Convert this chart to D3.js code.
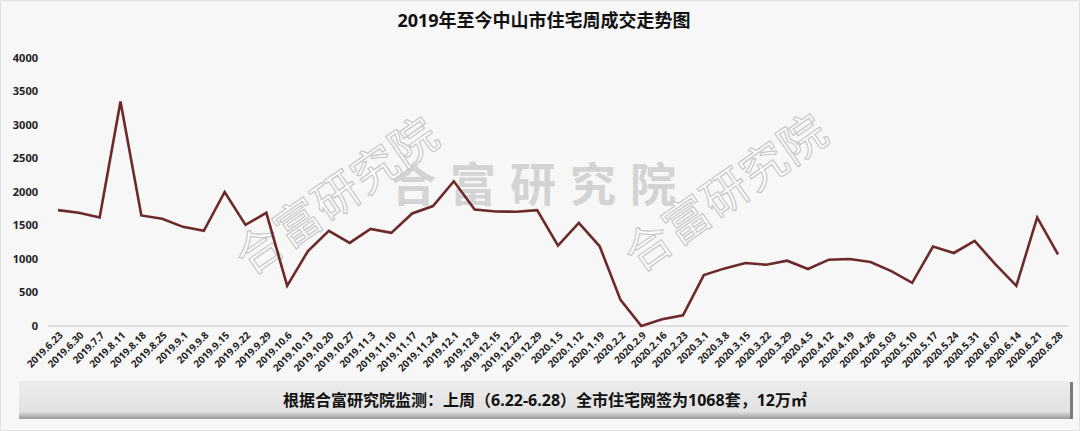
<!DOCTYPE html>
<html>
<head>
<meta charset="utf-8">
<script src="https://d3js.org/d3.v7.min.js"></script>
<style>
  body { margin: 0; background: #f7f7f7; }
  svg { display: block; font-family: "Noto Sans", "Noto Sans CJK SC", sans-serif; }
</style>
</head>
<body>
<svg width="1080" height="431"></svg>
<script>
var dates = ["2019.6.23","2019.6.30","2019.7.7","2019.8.11","2019.8.18","2019.8.25","2019.9.1","2019.9.8",
  "2019.9.15","2019.9.22","2019.9.29","2019.10.6","2019.10.13","2019.10.20","2019.10.27","2019.11.3",
  "2019.11.10","2019.11.17","2019.11.24","2019.12.1","2019.12.8","2019.12.15","2019.12.22","2019.12.29",
  "2020.1.5","2020.1.12","2020.1.19","2020.2.2","2020.2.9","2020.2.16","2020.2.23","2020.3.1","2020.3.8",
  "2020.3.15","2020.3.22","2020.3.29","2020.4.5","2020.4.12","2020.4.19","2020.4.26","2020.5.03","2020.5.10",
  "2020.5.17","2020.5.24","2020.5.31","2020.6.07","2020.6.14","2020.6.21","2020.6.28"];
var deals = [1730,1690,1620,3350,1650,1600,1480,1420,2000,1510,1690,600,1120,1420,1240,1450,
  1390,1680,1790,2160,1740,1710,1705,1730,1200,1540,1190,390,0,100,160,760,860,
  940,915,975,850,990,1000,955,820,645,1185,1090,1270,920,600,1620,1068];
var yTicks = [0,500,1000,1500,2000,2500,3000,3500,4000];
var title = "2019年至今中山市住宅周成交走势图";
var note = "根据合富研究院监测：上周（6.22-6.28）全市住宅网签为1068套，12万㎡";
var mark = "合富研究院";

var svg = d3.select("svg");

// frame
svg.append("rect").attr("x", 0.5).attr("y", 0.5).attr("width", 1079).attr("height", 430)
  .attr("fill", "#f7f7f7").attr("stroke", "#e2e2e2");

var x = d3.scalePoint().domain(dates).range([58, 1058]);
var y = d3.scaleLinear().domain([0, 4000]).range([326, 58]);

// watermarks
svg.append("text")
  .attr("x", 540).attr("y", 201)
  .attr("text-anchor", "middle")
  .style("font-size", "46px").style("font-weight", "bold")
  .style("letter-spacing", "14px")
  .style("font-family", "'Noto Sans CJK SC'")
  .attr("fill", "#d3d3d3")
  .text(mark);
[[337, 196], [726, 193]].forEach(function(p) {
  svg.append("text")
    .attr("transform", "translate(" + p[0] + "," + p[1] + ") rotate(-35)")
    .attr("text-anchor", "middle").attr("dy", "0.35em")
    .style("font-size", "46px")
    .style("letter-spacing", "1px")
    .style("font-family", "'Noto Sans CJK SC'")
    .attr("fill", "#ffffff").attr("stroke", "#c8c8c8").attr("stroke-width", 1.2)
    .text(mark);
});

// title
svg.append("text")
  .attr("x", 544).attr("y", 27)
  .attr("text-anchor", "middle")
  .style("font-size", "18px").style("font-weight", "bold")
  .attr("fill", "#111")
  .text(title);

// y axis labels
svg.append("g").selectAll("text").data(yTicks).enter().append("text")
  .attr("x", 38).attr("y", function(d) { return y(d); })
  .attr("dy", "0.35em").attr("text-anchor", "end")
  .style("font-size", "11px").style("font-weight", "bold")
  .attr("fill", "#222")
  .text(function(d) { return d; });

// x axis
var xAxis = svg.append("g")
  .attr("transform", "translate(0,326)")
  .call(d3.axisBottom(x).tickSize(0).tickPadding(0));
xAxis.select(".domain").attr("d", "M48,0H1068").attr("stroke", "#d9d9d9").attr("stroke-width", 1.5);
xAxis.selectAll(".tick text")
  .attr("y", 0).attr("dy", 0)
  .attr("transform", "translate(5,10) rotate(-45)")
  .attr("text-anchor", "end")
  .style("font-size", "10px").style("font-weight", "bold")
  .style("font-family", "'Noto Sans', sans-serif")
  .attr("fill", "#222");

// line
var line = d3.line()
  .x(function(d, i) { return x(dates[i]); })
  .y(function(d) { return y(d); });
svg.append("path")
  .datum(deals)
  .attr("d", line)
  .attr("fill", "none")
  .attr("stroke", "#6b2a27")
  .attr("stroke-width", 2.6)
  .attr("stroke-linejoin", "miter");

// bottom note banner
var defs = svg.append("defs");
var grad = defs.append("linearGradient").attr("id", "bannerGrad").attr("x1", 0).attr("y1", 0).attr("x2", 0).attr("y2", 1);
grad.append("stop").attr("offset", "0%").attr("stop-color", "#ececec");
grad.append("stop").attr("offset", "80%").attr("stop-color", "#e2e2e2");
grad.append("stop").attr("offset", "100%").attr("stop-color", "#9a9a9a");
svg.append("rect").attr("x", 1068).attr("y", 382).attr("width", 5).attr("height", 37).attr("fill", "#7a7a7a");
svg.append("rect").attr("x", 19).attr("y", 381).attr("width", 1051).attr("height", 38).attr("fill", "url(#bannerGrad)");
svg.append("text")
  .attr("x", 545).attr("y", 400).attr("dy", "0.35em")
  .attr("text-anchor", "middle")
  .style("font-size", "16px").style("font-weight", "bold")
  .attr("fill", "#111")
  .text(note);
</script>
</body>
</html>
